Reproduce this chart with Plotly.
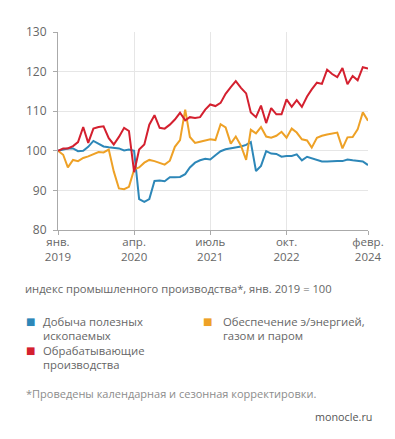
import pandas as pd
import plotly.graph_objects as go

# --- data -------------------------------------------------------------
months = pd.date_range("2019-01-01", "2024-02-01", freq="MS")

mining = [100, 100.4, 100.6, 100.6, 99.9, 100, 101, 102.5, 101.8, 101.1,
          100.9, 100.8, 100.6, 100.1, 100.3, 100, 87.8, 87.1, 87.8, 92.4,
          92.5, 92.3, 93.3, 93.3, 93.4, 94.1, 95.8, 97, 97.6, 98,
          97.8, 98.9, 99.9, 100.4, 100.6, 100.8, 101.1, 101.5, 102.2, 94.9,
          96.2, 99.9, 99.3, 99.2, 98.5, 98.7, 98.7, 99.1, 97.6, 98.5,
          98.1, 97.6, 97.3, 97.3, 97.4, 97.4, 97.4, 97.8, 97.6, 97.5,
          97.3, 96.4]

manufacturing = [100, 100.6, 100.6, 101.2, 102.2, 106, 102, 105.6, 106, 106.2,
                 103.2, 101.6, 103.5, 105.8, 105, 94.6, 100.3, 101.6, 106.6, 109,
                 105.8, 105.6, 106.6, 107.9, 109.6, 107.7, 108.5, 108.3, 108.5, 110.4,
                 111.7, 111.3, 112.1, 114.4, 116.1, 117.6, 115.9, 114.5, 109.7, 108.5,
                 111.4, 107, 110.8, 109.2, 109.2, 113, 111.1, 112.8, 111.1, 113.7,
                 115.5, 117.2, 116.9, 120.5, 119.4, 118.6, 120.9, 116.8, 118.9, 117.8,
                 121.1, 120.8]

energy = [100, 99, 95.8, 97.7, 97.4, 98.2, 98.6, 99.1, 99.7, 99.6,
          100.3, 94.8, 90.5, 90.3, 90.9, 95.3, 95.8, 97, 97.7, 97.4,
          96.9, 96.5, 97.5, 101, 102.7, 110.4, 103.5, 102, 102.3, 102.6,
          102.9, 102.7, 106.7, 105.9, 101.8, 103.6, 101.3, 97.7, 105.3, 104.4,
          106, 103.6, 103.3, 103.8, 104.8, 103.3, 105.6, 104.6, 102.9, 102.6,
          100.8, 103.3, 103.8, 104.1, 104.3, 104.6, 100.6, 103.4, 103.5, 105.4,
          109.7, 107.6]

series_names = [["Добыча полезных", "ископаемых"],
                ["Обеспечение э/энергией,", "газом и паром"],
                ["Обрабатывающие", "производства"]]
series_colors = ["#2d87b8", "#eea126", "#d4202f"]

tick_dates = ["2019-01-01", "2020-04-01", "2021-07-01", "2022-10-01", "2024-02-01"]
tick_labels = ["янв.<br>2019", "апр.<br>2020", "июль<br>2021", "окт.<br>2022", "февр.<br>2024"]
y_ticks = [80, 90, 100, 110, 120, 130]

subtitle = "индекс промышленного производства*, янв. 2019 = 100"
footnote = "*Проведены календарная и сезонная корректировки."
source = "monocle.ru"

# --- figure -----------------------------------------------------------
W, H = 395, 439
ML, MR, MT, MB = 50, 35, 24, 217
PW, PH = W - ML - MR, H - MT - MB
FONT = "Open Sans"

fig = go.Figure()
for vals, name, col in [(mining, series_names[0], series_colors[0]),
                        (energy, series_names[1], series_colors[1]),
                        (manufacturing, series_names[2], series_colors[2])]:
    fig.add_trace(go.Scatter(x=months, y=vals, mode="lines", name=" ".join(name),
                             line=dict(color=col, width=2), showlegend=False,
                             hoverinfo="skip"))

fig.update_layout(
    width=W, height=H,
    margin=dict(l=ML, r=MR, t=MT, b=MB, pad=0),
    paper_bgcolor="white", plot_bgcolor="white",
    font=dict(family=FONT, size=12, color="#666666"),
    showlegend=False,
)
fig.update_xaxes(
    range=["2019-01-01", "2024-02-01"],
    tickvals=tick_dates, ticktext=tick_labels,
    showgrid=True, gridcolor="#e6e6e6", gridwidth=1,
    showline=True, linecolor="#aaaaaa", linewidth=1,
    ticks="outside", ticklen=4, tickcolor="#aaaaaa",
    tickfont=dict(size=11.5, color="#666666"),
    ticklabelstandoff=-3,
    zeroline=False, fixedrange=True,
)
fig.update_yaxes(
    range=[80, 130], tickvals=y_ticks,
    showgrid=True, gridcolor="#e6e6e6", gridwidth=1,
    showline=True, linecolor="#aaaaaa", linewidth=1,
    ticks="outside", ticklen=4, tickcolor="#aaaaaa",
    tickfont=dict(size=12, color="#666666"),
    ticklabelstandoff=4,
    zeroline=False, fixedrange=True,
)


def px(x):
    return (x - ML) / PW


def py(y):
    return 1 - (y - MT) / PH


def text_ann(text, x, y, size, color, anchor="left"):
    return dict(text=text, x=px(x), y=py(y), xref="paper", yref="paper",
                xanchor=anchor, yanchor="middle", showarrow=False,
                font=dict(size=size, color=color))


annots = [text_ann(subtitle, 15, 280, 11.2, "#666666")]

legend_pos = [(22.5, 33, 313), (199.5, 213, 313), (22.5, 33, 342)]
for (sx, tx, ty), lines, col in zip(legend_pos, series_names, series_colors):
    annots.append(dict(text="■", x=px(sx), y=py(ty), xref="paper", yref="paper",
                       xanchor="center", yanchor="middle", showarrow=False,
                       font=dict(size=10, color=col, family="DejaVu Sans")))
    for k, line in enumerate(lines):
        annots.append(text_ann(line, tx, ty + 14 * k, 11.3, "#666666"))

annots.append(text_ann(footnote, 15.5, 385, 11.0, "#8c8c8c"))
annots.append(text_ann(source, 366, 408, 10.8, "#555555", anchor="right"))
fig.update_layout(annotations=annots)

fig.write_html("out.html")
